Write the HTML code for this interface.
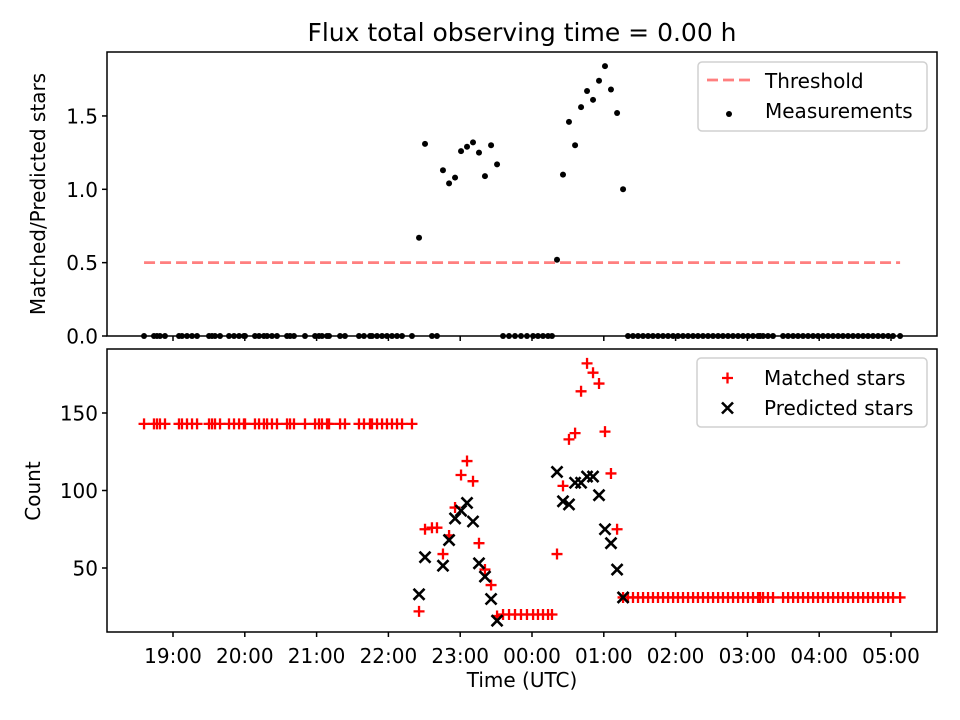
<!DOCTYPE html>
<html><head><meta charset="utf-8"><style>
body{margin:0;background:#fff;}
svg{display:block;font-family:"DejaVu Sans","Liberation Sans",sans-serif;}
</style></head><body>
<svg id="chart" width="960" height="720" viewBox="0 0 960 720">
<text x="522" y="41" text-anchor="middle" font-size="25">Flux total observing time = 0.00 h</text>
<g id="gtop"></g>
<g id="gbot"></g>
</svg>
<script>
// minutes since 19:00 UTC
const times = [-24.2,-15.9,-13.4,-10.9,-6.7,5,7.5,11.7,15.9,20.1,30.1,32.6,35.1,39.3,46.8,51,55.2,59.3,60.2,68.5,71.9,76,78.6,82.7,86.9,95.3,97.8,101.1,110.3,118.7,122,124.5,128.7,130.4,139.6,143.7,155.4,159.6,164.6,166.3,170.5,174.7,178.8,183,187.2,191.4,199.7,
205.6,210.6,216.4,220.6,225.6,230.7,235.7,240.7,245.7,250.7,255.7,260.7,265.8,270.8,
275.8,280.8,285.8,290.8,295.8,300.9,305,309.2,313.4,316.7,
320.9,325.9,330.9,336,341,346,351,356,361,366,371.1,376.1,
380.2,384.4,388.6,392.8,397,401.1,405.3,409.5,413.7,417.9,422,426.2,430.4,434.6,438.7,442.9,447.1,451.3,455.5,459.6,463.8,468,472.2,476.4,480.5,484.7,488.9,490.6,493.1,497.2,501.4,509.8,514,518.2,522.3,526.5,530.7,534.9,539,543.2,547.4,551.6,555.8,559.9,564.1,568.3,572.5,576.7,580.8,585,589.2,593.4,597.6,601.7,607.6];
const matchedLeft = [143,143,143,143,143,143,143,143,143,143,143,143,143,143,143,143,143,143,143,143,143,143,143,143,143,143,143,143,143,143,143,143,143,143,143,143,143,143,143,143,143,143,143,143,143,143,143];
const matchedPeak1 = [22,75,76,76,59,71,89,110,119,106,66,49,39,19];
const matchedGap = [20,20,20,20,20,20,20,20,20,20];
const matchedPeak2 = [59,103,133,137,164,182,176,169,138,111,75,31];
const matchedRight = [31,31,31,31,31,31,31,31,31,31,31,31,31,31,31,31,31,31,31,31,31,31,31,31,31,31,31,31,31,31,31,31,31,31,31,31,31,31,31,31,31,31,31,31,31,31,31,31,31,31,31,31,31,31,31];
const predictedPeak1 = [33,57,0,0,51.5,68,82,87,92,80,53,44.5,30,16];
const predictedPeak2 = [112,93,91,105,105,109,109,97,75,66,49,31];
const ratioPeak1 = [0.67,1.31,0,0,1.13,1.04,1.08,1.26,1.29,1.32,1.25,1.09,1.30,1.17];
const ratioPeak2 = [0.52,1.10,1.46,1.30,1.56,1.67,1.61,1.74,1.84,1.68,1.52,1.00];
const threshold = 0.5;
const xTickLabels = ["19:00","20:00","21:00","22:00","23:00","00:00","01:00","02:00","03:00","04:00","05:00"];
const xTickMinutes = [0,60,120,180,240,300,360,420,480,540,600];
const topTicks = [0,0.5,1,1.5];
const botTicks = [50,100,150];

const matched = matchedLeft.concat(matchedPeak1, matchedGap, matchedPeak2, matchedRight);
const zerosL = matchedLeft.map(()=>0), zerosG = matchedGap.map(()=>0), zerosR = matchedRight.map(()=>0);
const predicted = zerosL.concat(predictedPeak1, zerosG, predictedPeak2, zerosR);
const ratio = zerosL.concat(ratioPeak1, zerosG, ratioPeak2, zerosR);

const NS="http://www.w3.org/2000/svg";
const L=107,R=937;
const FS=20;
const xs = m => 173 + m*71.8/60;
const yTop = v => 336 - v*146.7;
const yBot = c => 413 - (c-150)*1.55;
function mk(tag,attrs,parent){const e=document.createElementNS(NS,tag);for(const k in attrs)e.setAttribute(k,attrs[k]);parent.appendChild(e);return e;}
const gTop=document.getElementById('gtop'), gBot=document.getElementById('gbot');
const N=Math.min(times.length, matched.length);
const DASH='11,5';

function frame(g,y0,y1,name){
  const r=mk('rect',{x:L,y:y0,width:R-L,height:y1-y0,fill:'none',stroke:'#000','stroke-width':1.5},g);
  
  
}
// top panel
const tl=mk('line',{x1:xs(times[0]),x2:xs(times[N-1]),y1:yTop(threshold),y2:yTop(threshold),stroke:'#ff7f7f','stroke-width':2.8,'stroke-dasharray':DASH},gTop);


for(let i=0;i<N;i++){
  const c=mk('circle',{cx:xs(times[i]),cy:yTop(ratio[i]||0),r:3,fill:'#000'},gTop);
  
  
}
frame(gTop,52,336,'top-axes-frame');
topTicks.forEach(v=>{
  const y=yTop(v);
  mk('line',{x1:L-5,x2:L,y1:y,y2:y,stroke:'#000','stroke-width':1.5},gTop);
  const t=mk('text',{x:L-9,y:y+7.5,'text-anchor':'end','font-size':FS},gTop);t.textContent=v.toFixed(1);
  
  
});
xTickMinutes.forEach(m=>{mk('line',{x1:xs(m),x2:xs(m),y1:336,y2:341,stroke:'#000','stroke-width':1.5},gTop);});
const yt1=mk('text',{x:45,y:194,'text-anchor':'middle','font-size':FS,transform:'rotate(-90 45 194)'},gTop);yt1.textContent='Matched/Predicted stars';



// bottom panel
const clip=mk('clipPath',{id:'cb'},gBot);mk('rect',{x:L,y:349,width:R-L,height:283},clip);
const marks=mk('g',{'clip-path':'url(#cb)'},gBot);
for(let i=0;i<N;i++){
  const x=xs(times[i]),y=yBot(matched[i]);
  const p=mk('path',{d:`M${x-5.5},${y}H${x+5.5}M${x},${y-5.5}V${y+5.5}`,stroke:'#f00','stroke-width':2.3,fill:'none'},marks);
  
  
}
for(let i=0;i<N;i++){
  if(!(predicted[i]>0)) continue;
  const x=xs(times[i]),y=yBot(predicted[i]);
  const p=mk('path',{d:`M${x-5.5},${y-5.5}L${x+5.5},${y+5.5}M${x-5.5},${y+5.5}L${x+5.5},${y-5.5}`,stroke:'#000','stroke-width':2.6,fill:'none'},marks);
  
  
}
frame(gBot,349,632,'bottom-axes-frame');
botTicks.forEach(v=>{
  const y=yBot(v);
  mk('line',{x1:L-5,x2:L,y1:y,y2:y,stroke:'#000','stroke-width':1.5},gBot);
  const t=mk('text',{x:L-9,y:y+7.5,'text-anchor':'end','font-size':FS},gBot);t.textContent=v;
  
  
});
xTickMinutes.forEach((m,i)=>{
  mk('line',{x1:xs(m),x2:xs(m),y1:632,y2:637,stroke:'#000','stroke-width':1.5},gBot);
  const t=mk('text',{x:xs(m),y:663,'text-anchor':'middle','font-size':FS},gBot);t.textContent=xTickLabels[i];
  
  
});
const yt2=mk('text',{x:40,y:491,'text-anchor':'middle','font-size':FS,transform:'rotate(-90 40 491)'},gBot);yt2.textContent='Count';


const xt=mk('text',{x:522,y:687,'text-anchor':'middle','font-size':FS},gBot);xt.textContent='Time (UTC)';



// legends
function legend(g,x,y,w,h,name){
  const r=mk('rect',{x:x,y:y,width:w,height:h,rx:4,fill:'#fff','fill-opacity':0.8,stroke:'#d0d0d0','stroke-width':1.5},g);
  
  
}
legend(gTop,698,62,229,69,'top-legend');
mk('line',{x1:707,x2:750,y1:80,y2:80,stroke:'#ff7f7f','stroke-width':2.8,'stroke-dasharray':DASH},gTop);
let lt=mk('text',{x:765,y:88,'font-size':FS},gTop);lt.textContent='Threshold';


mk('circle',{cx:729,cy:114,r:3,fill:'#000'},gTop);
lt=mk('text',{x:765,y:118,'font-size':FS},gTop);lt.textContent='Measurements';



legend(gBot,697,358,230,69,'bottom-legend');
mk('path',{d:'M722,378H733M727.5,372.5V383.5',stroke:'#f00','stroke-width':2.3},gBot);
lt=mk('text',{x:764,y:385,'font-size':FS},gBot);lt.textContent='Matched stars';


mk('path',{d:'M722,402.5L733,413.5M722,413.5L733,402.5',stroke:'#000','stroke-width':2.6},gBot);
lt=mk('text',{x:764,y:415,'font-size':FS},gBot);lt.textContent='Predicted stars';


</script>
</body></html>
